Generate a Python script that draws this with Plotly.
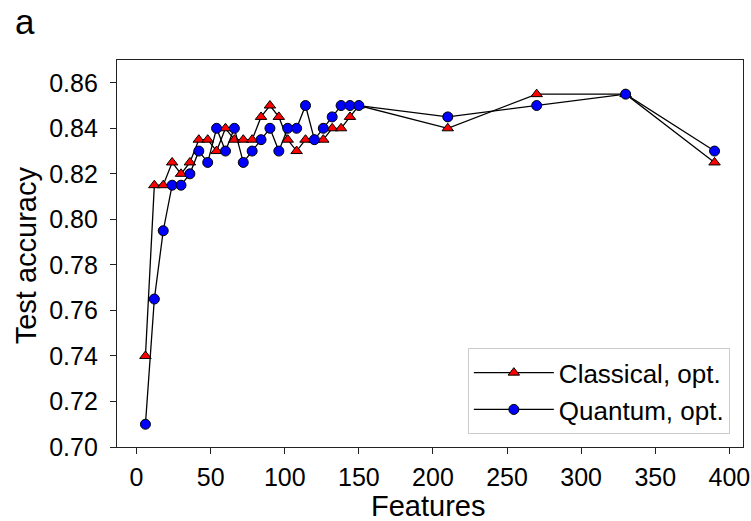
import plotly.graph_objects as go

features = [6, 12, 18, 24, 30, 36, 42, 48, 54, 60, 66, 72, 78, 84, 90, 96, 102, 108,
            114, 120, 126, 132, 138, 144, 150, 210, 270, 330, 390]
classical = [0.740, 0.815, 0.815, 0.825, 0.820, 0.825, 0.835, 0.835, 0.830, 0.840,
             0.835, 0.835, 0.835, 0.845, 0.850, 0.845, 0.835, 0.830, 0.835, 0.835,
             0.835, 0.840, 0.840, 0.845, 0.850, 0.840, 0.855, 0.855, 0.825]
quantum = [0.710, 0.765, 0.795, 0.815, 0.815, 0.820, 0.830, 0.825, 0.840, 0.830,
           0.840, 0.825, 0.830, 0.835, 0.840, 0.830, 0.840, 0.840, 0.850, 0.835,
           0.840, 0.845, 0.850, 0.850, 0.850, 0.845, 0.850, 0.855, 0.830]
y_ticks = [0.70, 0.72, 0.74, 0.76, 0.78, 0.80, 0.82, 0.84, 0.86]
x_ticks = [0, 50, 100, 150, 200, 250, 300, 350, 400]

FONT = "Liberation Sans, Arial, sans-serif"

fig = go.Figure()
fig.add_trace(go.Scatter(
    x=features, y=classical, mode="lines+markers", name="Classical, opt.",
    legendgroup="c",
    line=dict(color="black", width=1.3),
    marker=dict(symbol="triangle-up", size=10, color="#ff0000",
                line=dict(color="black", width=1)),
))
fig.add_trace(go.Scatter(
    x=features, y=quantum, mode="lines+markers", name="Quantum, opt.",
    legendgroup="q",
    line=dict(color="black", width=1.3),
    marker=dict(symbol="circle", size=10, color="#0000ff",
                line=dict(color="black", width=1)),
))

axis_common = dict(
    showgrid=False, zeroline=False, showline=True, mirror=True, automargin=False,
    linecolor="#222222", linewidth=1.3, ticks="outside", ticklen=6,
    tickwidth=1.3, tickcolor="#222222", ticklabeloverflow="allow",
    tickfont=dict(family=FONT, size=25, color="black"),
)

fig.update_layout(
    width=751, height=521,
    margin=dict(l=117, r=8, t=60, b=74),
    paper_bgcolor="white", plot_bgcolor="white",
    font=dict(family=FONT, color="black"),
    xaxis=dict(range=[-13.2, 409.2], tickvals=x_ticks, ticklabelstandoff=2,
               **axis_common),
    yaxis=dict(range=[0.70, 0.87], tickvals=y_ticks, tickformat=".2f",
               ticklabelstandoff=7, **axis_common),
    legend=dict(x=0.979, y=0.033, xanchor="right", yanchor="bottom",
                bgcolor="white", bordercolor="#cccccc", borderwidth=1,
                itemwidth=80, tracegroupgap=0,
                font=dict(family=FONT, size=26, color="black")),
    showlegend=True,
    annotations=[
        dict(text="Features", xref="paper", yref="paper", x=0.4968, y=-0.152,
             xanchor="center", yanchor="middle", showarrow=False,
             font=dict(family=FONT, size=29, color="black")),
        dict(text="Test accuracy", xref="paper", yref="paper", x=-0.1449, y=0.496,
             xanchor="center", yanchor="middle", textangle=-90, showarrow=False,
             font=dict(family=FONT, size=29, color="black")),
        dict(text="a", xref="paper", yref="paper", x=-0.1666, y=1.10,
             xanchor="left", yanchor="middle", showarrow=False,
             font=dict(family=FONT, size=35, color="black")),
    ],
)

fig.write_html("out.html")
